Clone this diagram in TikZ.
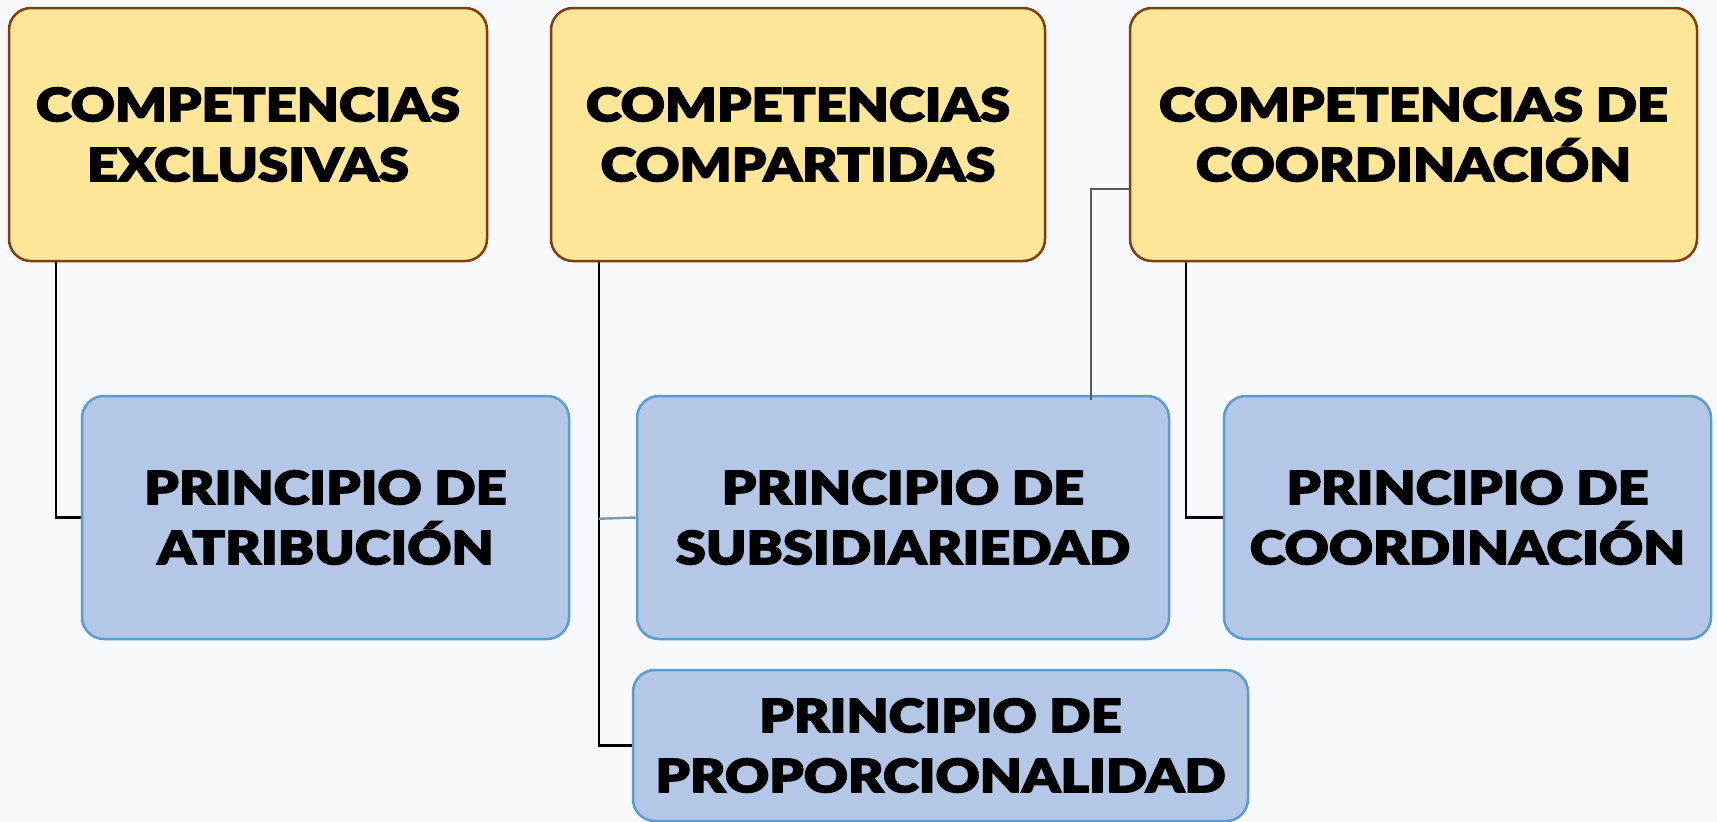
\documentclass[tikz,border=0pt]{standalone}
\usepackage{fontspec}
\newfontfamily\hv{Lato Black}[FakeStretch=1.18, FakeBold=3]
\usetikzlibrary{calc}
\definecolor{bgc}{HTML}{F7F9FC}
\definecolor{yfill}{HTML}{FFE699}
\definecolor{ydraw}{HTML}{843C0C}
\definecolor{bfill}{HTML}{B4C7E7}
\definecolor{bdraw}{HTML}{5B9BD5}
\definecolor{thin}{HTML}{595959}
\definecolor{branch}{HTML}{7F98B8}
\tikzset{
  txt/.style={align=center, font=\hv\fontsize{46}{60}\selectfont, text=black, inner sep=0pt},
  ybox/.style={txt, draw=ydraw, fill=yfill, line width=2.5pt, rounded corners=22pt},
  bbox/.style={txt, draw=bdraw, fill=bfill, line width=2.5pt, rounded corners=22pt},
  conn/.style={draw=black, line width=2.4pt},
}
\begin{document}
\begin{tikzpicture}[x=1pt,y=-1pt]
\fill[bgc] (0,0) rectangle (1717,822);
\useasboundingbox (0,0) rectangle (1717,822);
\node[ybox, minimum width=478pt, minimum height=253pt] (b1) at (248,134.5) {COMPETENCIAS\\EXCLUSIVAS};
\node[ybox, minimum width=494pt, minimum height=253pt] (b2) at (798,134.5) {COMPETENCIAS\\COMPARTIDAS};
\node[ybox, minimum width=567pt, minimum height=253pt] (b3) at (1413.5,134.5) {COMPETENCIAS DE\\COORDINACIÓN};
\node[bbox, minimum width=487pt, minimum height=243pt] (b4) at (325.5,517.5) {PRINCIPIO DE\\ATRIBUCIÓN};
\node[bbox, minimum width=532pt, minimum height=243pt] (b5) at (903,517.5) {PRINCIPIO DE\\SUBSIDIARIEDAD};
\node[bbox, minimum width=487pt, minimum height=243pt] (b6) at (1467.5,517.5) {PRINCIPIO DE\\COORDINACIÓN};
\node[bbox, minimum width=615pt, minimum height=151pt] (b7) at (940.5,745.5) {PRINCIPIO DE\\PROPORCIONALIDAD};
\draw[conn] ($(b1.south west)+(48,0)$) |- (b4.west);
\draw[conn] ($(b2.south west)+(49,0)$) |- (b7.west);
\draw[draw=branch, line width=2.4pt] ($(b2.south west)+(49,517.5-261)$) -- (b5.west);
\draw[conn] ($(b3.south west)+(57,0)$) |- (b6.west);
\draw[draw=thin, line width=1.6pt] ($(b3.west)+(0,54.5)$) -| ($(b5.north west)+(455,5)$);
\end{tikzpicture}
\end{document}
